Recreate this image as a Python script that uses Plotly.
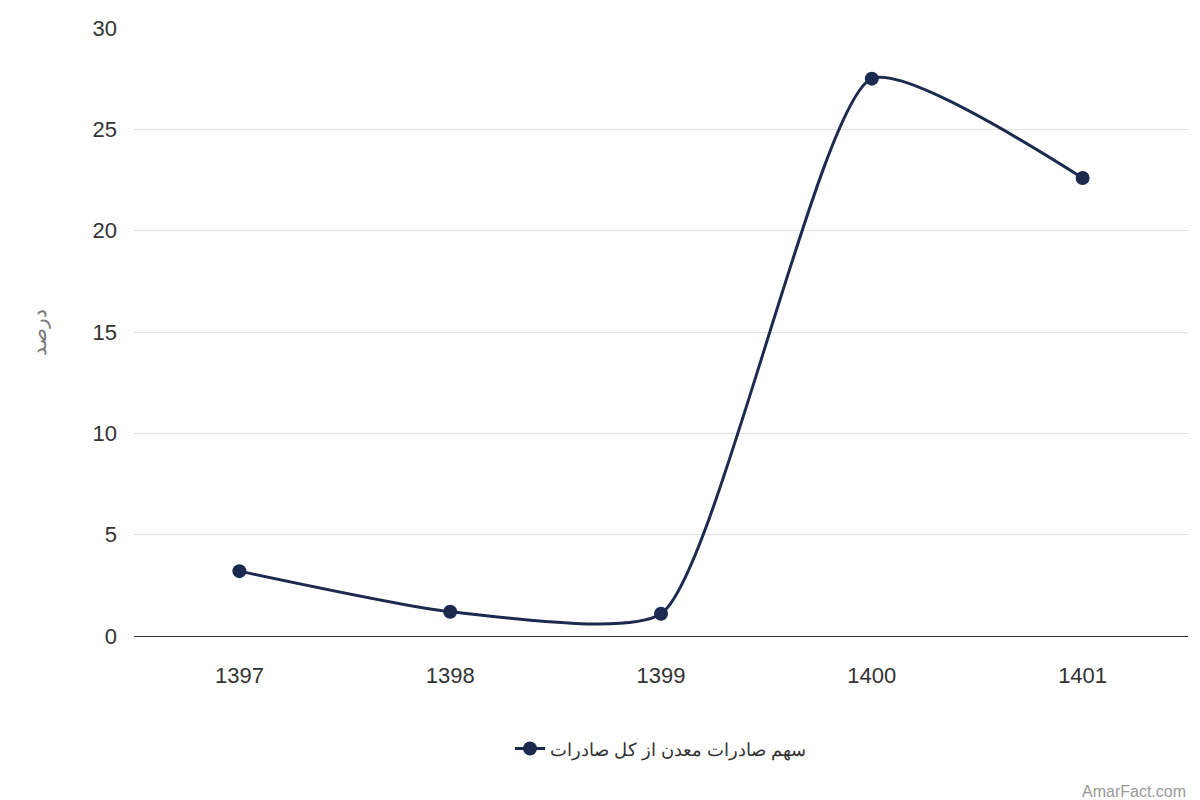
import plotly.graph_objects as go

years = ["1397", "1398", "1399", "1400", "1401"]
values = [3.2, 1.2, 1.1, 27.5, 22.6]
series_name = "سهم صادرات معدن از کل صادرات"

fig = go.Figure()
fig.add_trace(go.Scatter(
    x=years, y=values, mode="lines+markers", name=series_name,
    line=dict(color="#1b2a4e", width=3, shape="spline", smoothing=0.55),
    marker=dict(size=14, color="#1b2a4e"),
))
fig.update_layout(
    width=1200, height=800,
    margin=dict(l=126, r=20, t=20, b=172, autoexpand=False),
    plot_bgcolor="white", paper_bgcolor="white",
    font=dict(family="Liberation Sans, Arial", size=20, color="#333"),
    showlegend=True,
    legend=dict(orientation="h", x=0.5, xanchor="center", yref="container",
                y=0.074, yanchor="middle", font=dict(size=18, color="#333")),
    xaxis=dict(type="category", range=[-0.5, 4.5], showgrid=False, automargin=False,
               showline=True, linecolor="#333", linewidth=1, ticks="",
               tickfont=dict(size=22, color="#333"), ticklabelstandoff=20),
    yaxis=dict(range=[0, 30], dtick=5, gridcolor="#e0e0e0", zeroline=False, automargin=False,
               tickfont=dict(size=22, color="#333"), ticklabelstandoff=16,
               title=dict(text="درصد", font=dict(size=20, color="#777"), standoff=40)),
)
fig.add_annotation(text="AmarFact.com", xref="paper", yref="paper", x=1.0, y=-0.238,
                   xanchor="right", yanchor="top", showarrow=False,
                   font=dict(size=16, color="#999"))
fig.write_html("out.html")
